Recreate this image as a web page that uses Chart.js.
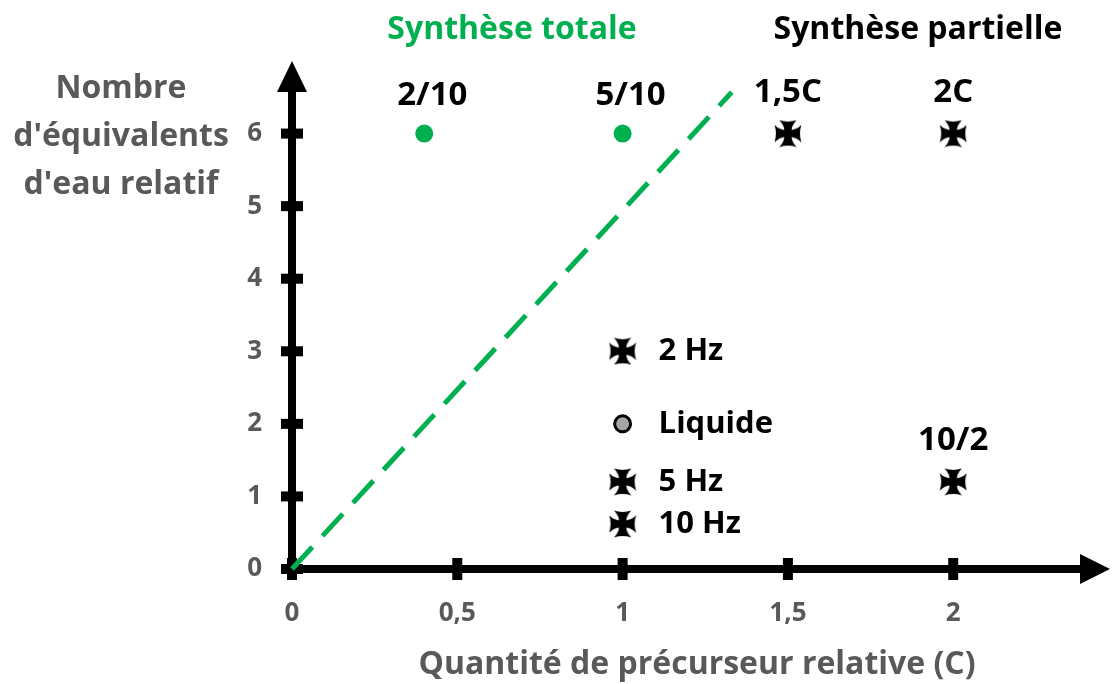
<!DOCTYPE html>
<html>
<head>
<meta charset="utf-8">
<script src="https://cdn.jsdelivr.net/npm/chart.js@4/dist/chart.umd.min.js"></script>
<style>
  html, body { margin: 0; padding: 0; background: #fff; }
  #wrap { width: 1113px; height: 684px; }
</style>
</head>
<body>
<div id="wrap"><canvas id="c" width="1113" height="684"></canvas></div>
<script>
// Total synthesis runs (green dots)
const totalX = [0.4, 1];
const totalY = [6, 6];
const totalLabels = ['2/10', '5/10'];

// Partial synthesis runs (crosses)
const partialX = [1.5, 2, 2];
const partialY = [6, 6, 1.2];
const partialLabels = ['1,5C', '2C', '10/2'];

// Symbol key placed inside the plot
const keyX = [1, 1, 1, 1];
const keyY = [3, 2, 1.2, 0.62];
const keyLabels = ['2 Hz', 'Liquide', '5 Hz', '10 Hz'];
const keyKinds = ['cross', 'liquid', 'cross', 'cross'];

// Boundary between total and partial synthesis
const limitX = [0, 1.33];
const limitY = [0, 6.57];

// Axis ticks
const xTicks = [0, 0.5, 1, 1.5, 2];
const yTicks = [0, 1, 2, 3, 4, 5, 6];

const GREEN = '#00B050';
const GRAY = '#595959';
const FONT = '"Open Sans", "DejaVu Sans", sans-serif';

// Cross pattée marker: four flared arms with concave ends
function makeCross(size) {
  const c = document.createElement('canvas');
  c.width = c.height = size;
  const g = c.getContext('2d');
  const r = size / 2;
  g.translate(r, r);
  g.fillStyle = '#000';
  for (let k = 0; k < 4; k++) {
    g.save();
    g.rotate(k * Math.PI / 2);
    g.beginPath();
    g.moveTo(-r * 0.26, 0);
    g.quadraticCurveTo(-r * 0.2, -r * 0.56, -r * 0.62, -r * 0.96);
    g.quadraticCurveTo(0, -r * 0.76, r * 0.62, -r * 0.96);
    g.quadraticCurveTo(r * 0.2, -r * 0.56, r * 0.26, 0);
    g.closePath();
    g.fill();
    g.restore();
  }
  g.beginPath();
  g.arc(0, 0, r * 0.32, 0, Math.PI * 2);
  g.fill();
  return c;
}
const crossImg = makeCross(28);

const toPts = (xs, ys) => xs.map((x, i) => ({ x, y: ys[i] }));

// Axes, arrows, tick marks and text annotations
const decor = {
  id: 'decor',
  beforeDatasetsDraw(chart) {
    const { ctx, chartArea: a, scales: { x, y } } = chart;
    const x0 = x.getPixelForValue(0);
    const y0 = y.getPixelForValue(0);
    ctx.save();
    ctx.strokeStyle = '#000';
    ctx.fillStyle = '#000';
    ctx.lineWidth = 8;
    ctx.lineCap = 'butt';
    // x axis
    ctx.beginPath();
    ctx.moveTo(x0 - 4, y0);
    ctx.lineTo(a.right - 10, y0);
    ctx.stroke();
    ctx.beginPath();
    ctx.moveTo(a.right + 8, y0);
    ctx.lineTo(a.right - 22, y0 - 15);
    ctx.lineTo(a.right - 22, y0 + 15);
    ctx.closePath();
    ctx.fill();
    // y axis
    ctx.beginPath();
    ctx.moveTo(x0, y0 + 4);
    ctx.lineTo(x0, a.top + 10);
    ctx.stroke();
    ctx.beginPath();
    ctx.moveTo(x0, a.top);
    ctx.lineTo(x0 - 15, a.top + 31);
    ctx.lineTo(x0 + 15, a.top + 31);
    ctx.closePath();
    ctx.fill();
    // tick marks
    xTicks.forEach(v => {
      const px = x.getPixelForValue(v);
      ctx.fillRect(px - 5, y0 - 11, 10, 22);
    });
    yTicks.forEach(v => {
      const py = y.getPixelForValue(v);
      ctx.fillRect(x0 - 11, py - 5, 22, 10);
    });
    ctx.restore();
  },
  afterDatasetsDraw(chart) {
    const { ctx, scales: { x, y } } = chart;
    ctx.save();
    ctx.textBaseline = 'middle';
    ctx.font = `bold 33px ${FONT}`;
    ctx.fillStyle = '#000';
    ctx.textAlign = 'center';
    totalLabels.forEach((t, i) => {
      ctx.fillText(t, x.getPixelForValue(totalX[i]) + 8, y.getPixelForValue(totalY[i]) - 38);
    });
    partialLabels.forEach((t, i) => {
      ctx.fillText(t, x.getPixelForValue(partialX[i]), y.getPixelForValue(partialY[i]) - 41);
    });
    ctx.textAlign = 'left';
    ctx.font = `bold 31px ${FONT}`;
    keyLabels.forEach((t, i) => {
      ctx.fillText(t, x.getPixelForValue(keyX[i]) + 36, y.getPixelForValue(keyY[i]));
    });
    // headings
    ctx.textAlign = 'center';
    ctx.font = `bold 32px ${FONT}`;
    ctx.fillStyle = GREEN;
    ctx.fillText('Synthèse totale', 512, 30);
    ctx.fillStyle = '#000';
    ctx.fillText('Synthèse partielle', 918, 30);
    // y axis title
    ctx.fillStyle = GRAY;
    ctx.font = `bold 32px ${FONT}`;
    ['Nombre', "d'équivalents", "d'eau relatif"].forEach((t, i) => {
      ctx.fillText(t, 121, 89 + i * 48);
    });
    ctx.restore();
  }
};

new Chart(document.getElementById('c'), {
  type: 'scatter',
  data: {
    datasets: [
      {
        type: 'line',
        data: toPts(limitX, limitY),
        borderColor: GREEN,
        borderWidth: 5,
        borderDash: [30, 15],
        pointRadius: 0,
        fill: false,
        clip: false
      },
      {
        data: toPts(totalX, totalY),
        pointStyle: 'circle',
        pointRadius: 9,
        backgroundColor: GREEN,
        borderWidth: 0,
        clip: false
      },
      {
        data: toPts(partialX, partialY),
        pointStyle: crossImg,
        clip: false
      },
      {
        data: toPts(keyX, keyY),
        pointStyle: keyKinds.map(k => k === 'cross' ? crossImg : 'circle'),
        pointRadius: 8,
        backgroundColor: '#A6A6A6',
        borderColor: '#000',
        borderWidth: 3,
        clip: false
      }
    ]
  },
  options: {
    responsive: false,
    animation: false,
    layout: { padding: { top: 61, right: 8, left: 0, bottom: 0 } },
    plugins: { legend: { display: false }, tooltip: { enabled: false } },
    scales: {
      x: {
        type: 'linear',
        min: 0,
        max: 2.45,
        grid: { display: false, drawTicks: false },
        border: { display: false },
        afterFit(s) { s.height = 115; },
        afterBuildTicks(s) { s.ticks = xTicks.map(v => ({ value: v })); },
        ticks: {
          padding: 29,
          color: GRAY,
          font: { family: FONT, size: 26, weight: 'bold' },
          callback: v => String(v).replace('.', ',')
        },
        title: {
          display: true,
          text: 'Quantité de précurseur relative (C)',
          color: GRAY,
          font: { family: FONT, size: 32, weight: 'bold' },
          padding: { top: 0, bottom: 0 }
        }
      },
      y: {
        type: 'linear',
        min: 0,
        max: 7,
        grid: { display: false, drawTicks: false },
        border: { display: false },
        afterFit(s) { s.width = 292; },
        afterBuildTicks(s) { s.ticks = yTicks.map(v => ({ value: v })); },
        ticks: {
          padding: 30,
          color: GRAY,
          font: { family: FONT, size: 26, weight: 'bold' }
        }
      }
    }
  },
  plugins: [decor]
});
</script>
</body>
</html>
